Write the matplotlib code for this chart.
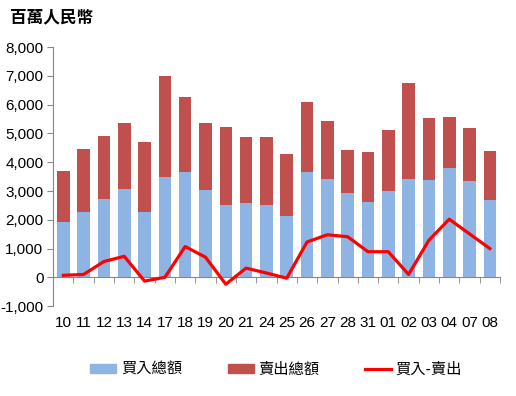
import numpy as np
import matplotlib
matplotlib.use('Agg')
import matplotlib.pyplot as plt
from matplotlib.lines import Line2D
from matplotlib.patches import Patch

days = ['10', '11', '12', '13', '14', '17', '18', '19', '20', '21', '24', '25',
        '26', '27', '28', '31', '01', '02', '03', '04', '07', '08']
buy_total = [1910, 2280, 2730, 3080, 2280, 3500, 3670, 3040, 2520, 2590, 2520, 2140,
             3670, 3430, 2940, 2630, 3010, 3430, 3390, 3810, 3360, 2700]
total = [3700, 4470, 4920, 5370, 4710, 7010, 6280, 5370, 5230, 4890, 4890, 4300,
         6100, 5440, 4430, 4370, 5130, 6770, 5550, 5580, 5200, 4400]
net = [70, 100, 550, 730, -130, 0, 1070, 700, -240, 320, 150, -30,
       1230, 1480, 1410, 890, 890, 100, 1290, 2020, 1510, 1000]
sell_total = [t - b for t, b in zip(total, buy_total)]

blue = '#8EB4E3'
red = '#C0504D'
linecolor = '#FF0000'
axiscolor = '#868686'
cjk = ['Noto Sans CJK TC', 'DejaVu Sans']

plt.rcParams['font.family'] = ['Liberation Sans', 'DejaVu Sans']

fig = plt.figure(figsize=(5.16, 3.96), dpi=100)
ax = fig.add_axes([0.103, 0.227, 0.866, 0.654])

x = np.arange(len(days))
ax.bar(x, buy_total, width=0.62, color=blue, zorder=2)
ax.bar(x, sell_total, bottom=buy_total, width=0.62, color=red, zorder=2)
ax.plot(x, net, color=linecolor, linewidth=2.3, zorder=3)

ax.set_xlim(-0.5, len(days) - 0.5)
ax.set_ylim(-1000, 8000)
yt = list(range(-1000, 8001, 1000))
ax.set_yticks(yt)
ax.set_yticklabels([f'{v:,}' for v in yt])

for spine in ['right', 'top']:
    ax.spines[spine].set_visible(False)
ax.spines['left'].set_color(axiscolor)
ax.spines['bottom'].set_color(axiscolor)
# x axis line sits at zero, labels stay at the bottom
ax.spines['bottom'].set_position(('data', 0))

ax.set_xticks(x)
ax.set_xticklabels(days)
ax.set_xticks(np.arange(-0.5, len(days), 1.0), minor=True)
ax.tick_params(axis='x', which='major', length=0, pad=28, labelsize=11)
ax.tick_params(axis='x', which='minor', length=4, color=axiscolor, direction='out')
ax.tick_params(axis='y', length=4, color=axiscolor, labelsize=11, pad=3)

fig.text(0.02, 0.955, '百萬人民幣', fontsize=12, fontweight='bold', family=cjk,
         va='center', ha='left')

handles = [Patch(color=blue), Patch(color=red),
           Line2D([0], [0], color=linecolor, linewidth=2.3)]
fig.legend(handles, ['買入總額', '賣出總額', '買入-賣出'], loc='center',
           bbox_to_anchor=(0.535, 0.068), ncol=3, frameon=False,
           prop={'family': cjk, 'size': 11}, handlelength=1.7, handleheight=0.5,
           handletextpad=0.3, columnspacing=3.0)

fig.savefig('out.png', dpi=100)
